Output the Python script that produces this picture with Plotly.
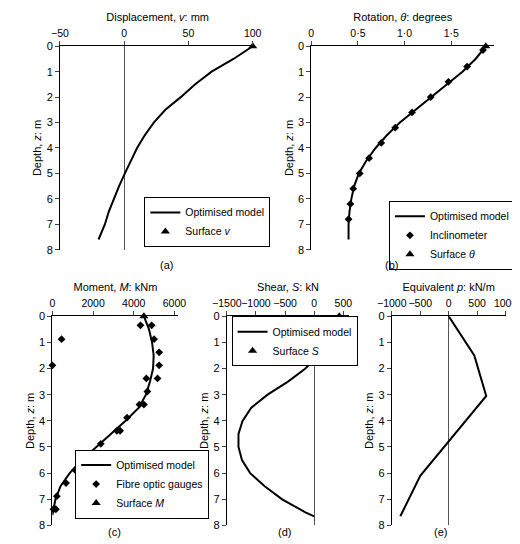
import plotly.graph_objects as go

# (a) displacement
za = [0, 0.5, 1, 1.5, 2, 2.5, 3, 3.5, 4, 4.5, 5, 5.5, 6, 6.5, 7, 7.6]
va = [100, 85, 68, 55, 44, 32, 23, 16, 10, 5, 0.5, -4, -8, -12, -15, -20]

# (b) rotation
zb = [0, 0.5, 1, 1.5, 2, 2.5, 3, 3.5, 4, 4.5, 5, 5.5, 6, 6.5, 7, 7.6]
tb = [1.87, 1.76, 1.62, 1.45, 1.28, 1.11, 0.95, 0.81, 0.69, 0.59, 0.51, 0.46, 0.43, 0.41, 0.40, 0.40]
z_inc = [0.15, 0.8, 1.4, 2.0, 2.6, 3.2, 3.8, 4.4, 5.0, 5.6, 6.2, 6.8]
t_inc = [1.84, 1.67, 1.47, 1.28, 1.08, 0.90, 0.75, 0.62, 0.52, 0.45, 0.42, 0.40]
rot_ticks = [0, 0.5, 1.0, 1.5, 2.0]
rot_labels = ["0", "0·5", "1·0", "1·5", "2·0"]

# (c) moment
zc = [0, 0.5, 1, 1.5, 2, 2.5, 3, 3.5, 4, 4.5, 5, 5.5, 6, 6.5, 7, 7.5, 7.6]
mc = [4500, 4750, 4900, 4980, 4950, 4800, 4600, 4250, 3600, 2900, 2150, 1450, 850, 400, 150, 20, 0]
z_fib = [0.35, 0.35, 0.88, 0.88, 1.38, 1.88, 1.88, 2.38, 2.38, 2.88, 3.38, 3.38, 3.88, 4.38, 4.38,
         4.88, 5.38, 5.38, 5.88, 5.88, 6.38, 6.88, 7.38, 7.38]
m_fib = [4330, 4880, 450, 5000, 5250, 0, 5250, 4620, 5170, 4670, 4280, 4500, 3670, 3170, 3330,
         2380, 1720, 1880, 1120, 5670, 670, 220, 50, 170]

# (d) shear
zd = [0, 0.5, 1, 1.5, 2, 2.5, 3, 3.5, 4, 4.5, 5, 5.5, 6, 6.5, 7, 7.5, 7.65]
sd = [430, 380, 250, 60, -150, -450, -800, -1080, -1230, -1300, -1300, -1240, -1100, -850, -550, -150, 0]

# (e) equivalent p
ze = [0, 1.5, 3.05, 4.8, 6.1, 7.65]
pe = [0, 450, 660, 0, -500, -850]

FONT = "Liberation Sans, Arial, sans-serif"
line = dict(color="black", width=2)

fig = go.Figure()
fig.add_trace(go.Scatter(x=va, y=za, mode="lines", line=line, name="Optimised model",
                         xaxis="x", yaxis="y", legend="legend"))
fig.add_trace(go.Scatter(x=[va[0]], y=[0], mode="markers", name="Surface <i>v</i>",
                         marker=dict(symbol="triangle-up", color="black", size=8),
                         xaxis="x", yaxis="y", legend="legend", cliponaxis=False))

fig.add_trace(go.Scatter(x=tb, y=zb, mode="lines", line=line, name="Optimised model",
                         xaxis="x2", yaxis="y2", legend="legend2"))
fig.add_trace(go.Scatter(x=t_inc, y=z_inc, mode="markers", name="Inclinometer",
                         marker=dict(symbol="diamond", color="black", size=6),
                         xaxis="x2", yaxis="y2", legend="legend2"))
fig.add_trace(go.Scatter(x=[tb[0]], y=[0], mode="markers", name="Surface <i>θ</i>",
                         marker=dict(symbol="triangle-up", color="black", size=8),
                         xaxis="x2", yaxis="y2", legend="legend2", cliponaxis=False))

fig.add_trace(go.Scatter(x=mc, y=zc, mode="lines", line=line, name="Optimised model",
                         xaxis="x3", yaxis="y3", legend="legend3"))
fig.add_trace(go.Scatter(x=m_fib, y=z_fib, mode="markers", name="Fibre optic gauges",
                         marker=dict(symbol="diamond", color="black", size=6),
                         xaxis="x3", yaxis="y3", legend="legend3", cliponaxis=False))
fig.add_trace(go.Scatter(x=[mc[0]], y=[0], mode="markers", name="Surface <i>M</i>",
                         marker=dict(symbol="triangle-up", color="black", size=8),
                         xaxis="x3", yaxis="y3", legend="legend3", cliponaxis=False))

fig.add_trace(go.Scatter(x=sd, y=zd, mode="lines", line=line, name="Optimised model",
                         xaxis="x4", yaxis="y4", legend="legend4"))
fig.add_trace(go.Scatter(x=[sd[0]], y=[0], mode="markers", name="Surface <i>S</i>",
                         marker=dict(symbol="triangle-up", color="black", size=8),
                         xaxis="x4", yaxis="y4", legend="legend4", cliponaxis=False))

fig.add_trace(go.Scatter(x=pe, y=ze, mode="lines", line=line, showlegend=False,
                         xaxis="x5", yaxis="y5"))


def xa(dom, rng, dtick, title, anchor):
    return dict(domain=[dom[0] / 520, dom[1] / 520], range=rng, dtick=dtick, side="top",
                anchor=anchor, showgrid=False, showline=True, linecolor="black", ticks="outside",
                ticklen=4, zeroline=True, zerolinecolor="#555", zerolinewidth=1, tickangle=0,
                title=dict(text=title, standoff=3, font=dict(size=11)), tickfont=dict(size=10.5))


def ya(dom, anchor):
    return dict(domain=[1 - dom[1] / 544, 1 - dom[0] / 544], range=[8, 0], dtick=1,
                anchor=anchor, showgrid=False, showline=True, linecolor="black",
                ticks="outside", ticklen=4, zeroline=False,
                title=dict(text="Depth, <i>z</i>: m", standoff=2, font=dict(size=11)),
                tickfont=dict(size=11))


top = (33, 241)
bot = (309, 523)
leg = dict(bordercolor="black", borderwidth=1, bgcolor="white", font=dict(size=10.5),
           tracegroupgap=0, itemwidth=30, xanchor="left", yanchor="top")

x2 = xa((304, 497), [0, 1.96], 0.5, "Rotation, <i>θ</i>: degrees", "y2")
x2.update(tickvals=rot_ticks, ticktext=rot_labels, tickmode="array")

fig.update_layout(
    width=520, height=544, margin=dict(l=0, r=0, t=0, b=0),
    paper_bgcolor="white", plot_bgcolor="white",
    font=dict(family=FONT, color="black", size=11),
    xaxis=xa((39, 245), [-50, 102], 50, "Displacement, <i>v</i>: mm", "y"),
    yaxis=ya(top, "x"),
    xaxis2=x2,
    yaxis2=ya(top, "x2"),
    xaxis3=xa((31, 164), [0, 6200], 2000, "Moment, <i>M</i>: kNm", "y3"),
    yaxis3=ya(bot, "x3"),
    xaxis4=xa((215, 344), [-1500, 600], 500, "Shear, <i>S</i>: kN", "y4"),
    yaxis4=ya(bot, "x4"),
    xaxis5=xa((389, 509), [-1000, 1000], 500, "Equivalent <i>p</i>: kN/m", "y5"),
    yaxis5=ya(bot, "x5"),
    legend=dict(leg, x=128 / 520, y=1 - 187 / 544),
    legend2=dict(leg, x=386 / 520, y=1 - 191 / 544),
    legend3=dict(leg, x=55 / 520, y=1 - 516 / 544, yanchor="bottom"),
    legend4=dict(leg, x=220 / 520, y=1 - 309 / 544),
)

for txt, xp, yp in [("(a)", 142, 257), ("(b)", 398, 257), ("(c)", 88, 538), ("(d)", 276, 538), ("(e)", 449, 538)]:
    fig.add_annotation(text=txt, x=xp / 520, y=1 - yp / 544, xref="paper", yref="paper",
                       showarrow=False, font=dict(size=11))

fig.write_html("out.html")
